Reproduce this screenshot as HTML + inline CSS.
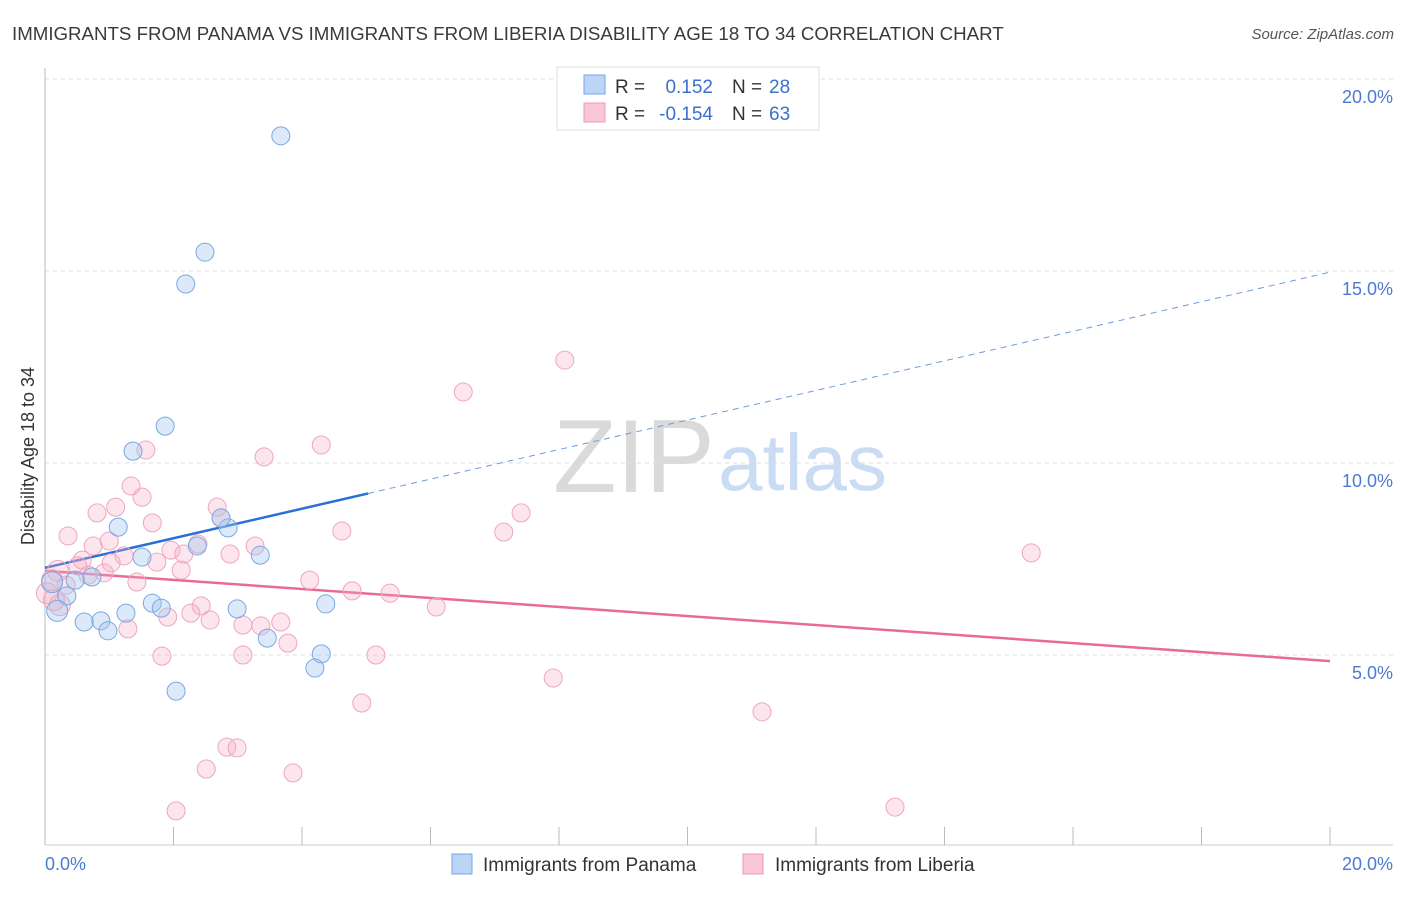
<!DOCTYPE html>
<html><head><meta charset="utf-8"><style>
body{margin:0;background:#fff;font-family:"Liberation Sans",sans-serif;}
svg text{font-family:"Liberation Sans",sans-serif;}
</style></head><body>
<svg id="chart" width="1406" height="892" viewBox="0 0 1406 892" xmlns="http://www.w3.org/2000/svg">
<text x="12" y="40" font-size="18.7" fill="#3a3a3a">IMMIGRANTS FROM PANAMA VS IMMIGRANTS FROM LIBERIA DISABILITY AGE 18 TO 34 CORRELATION CHART</text>
<text x="1394" y="39" font-size="15" fill="#555" text-anchor="end" font-style="italic">Source: ZipAtlas.com</text>
<g>
<text x="553" y="492" font-size="104" fill="#dadada" font-family="Liberation Serif,serif">ZIP</text>
<text x="718" y="490" font-size="80" fill="#cadcf3">atlas</text>
</g>
<g id="grid"></g>
<g id="axes"></g>
<text transform="translate(34,456) rotate(-90)" text-anchor="middle" font-size="18" fill="#333">Disability Age 18 to 34</text>
<g id="lines"></g>
<g id="pts"></g>
<g>
<rect x="557" y="67" width="262" height="63" fill="#fff" stroke="#ddd"/>
<rect x="584" y="75" width="21" height="19" fill="#bcd4f5" stroke="#7aa6e6"/>
<rect x="584" y="103" width="21" height="19" fill="#f9c6d6" stroke="#ec9ab6"/>
<text x="615" y="93" font-size="19" fill="#333">R =</text>
<text x="713" y="93" font-size="19" fill="#3a70d0" text-anchor="end">0.152</text>
<text x="732" y="93" font-size="19" fill="#333">N =</text>
<text x="769" y="93" font-size="19" fill="#3a70d0">28</text>
<text x="615" y="120" font-size="19" fill="#333">R =</text>
<text x="713" y="120" font-size="19" fill="#3a70d0" text-anchor="end">-0.154</text>
<text x="732" y="120" font-size="19" fill="#333">N =</text>
<text x="769" y="120" font-size="19" fill="#3a70d0">63</text>
</g>
<g>
<g><rect x="452" y="854" width="20" height="20" fill="#bcd4f5" stroke="#7aa6e6"/><text x="483" y="871" font-size="19" fill="#333">Immigrants from Panama</text></g>
<g><rect x="743" y="854" width="20" height="20" fill="#f9c6d6" stroke="#ec9ab6"/><text x="775" y="871" font-size="19" fill="#333">Immigrants from Liberia</text></g>
</g>
</svg>
<script>
const yTicks=[5,10,15,20];
const yTickLabels=["5.0%","10.0%","15.0%","20.0%"];
const xTickLabels=["0.0%","20.0%"];
const panamaX=[3.67,2.49,2.19,1.87,1.37,1.14,2.85,2.37,2.74,1.51,3.35,0.73,0.34,0.19,0.61,0.87,0.98,1.26,1.67,1.81,2.99,3.46,4.37,4.30,4.20,2.04,0.11,0.47];
const panamaY=[18.52,15.49,14.66,10.96,10.31,8.33,8.31,7.84,8.57,7.55,7.60,7.03,6.54,6.15,5.86,5.89,5.63,6.09,6.35,6.22,6.20,5.44,6.33,5.03,4.66,4.06,6.90,6.95];
const liberiaX=[8.09,6.51,4.30,1.57,3.41,1.34,1.10,0.81,1.51,1.67,0.36,2.68,2.74,7.14,7.41,4.62,1.00,0.75,1.23,1.96,2.16,2.38,2.88,3.27,1.74,0.58,0.51,0.20,0.92,1.43,2.12,4.12,4.78,5.37,6.09,15.35,2.43,2.27,1.91,2.57,3.08,3.36,3.67,1.29,3.78,1.82,3.08,5.15,7.91,4.93,11.16,2.83,2.99,2.51,3.86,2.04,13.23,0.03,0.11,0.23,0.33,0.14,1.03,0.67];
const liberiaY=[12.68,11.85,10.47,10.34,10.16,9.40,8.85,8.70,9.11,8.44,8.10,8.85,8.57,8.20,8.70,8.23,7.97,7.84,7.58,7.73,7.63,7.89,7.63,7.84,7.42,7.47,7.32,7.19,7.14,6.90,7.21,6.95,6.67,6.61,6.25,7.66,6.28,6.09,5.99,5.91,5.78,5.76,5.86,5.68,5.31,4.97,5.00,5.00,4.40,3.75,3.52,2.60,2.58,2.03,1.93,0.94,1.04,6.61,6.95,6.30,6.82,6.43,7.40,7.08];
const panamaTrend=[7.27,14.97];
const panamaTrendSolidEnd=5.03;
const liberiaTrend=[7.19,4.84];
const NS="http://www.w3.org/2000/svg";
const X=v=>45+v*64.25, Y=v=>847-v*38.4;
function mk(tag,attrs,parent){const e=document.createElementNS(NS,tag);for(const k in attrs)e.setAttribute(k,attrs[k]);parent.appendChild(e);return e;}
const grid=document.getElementById('grid'),axes=document.getElementById('axes'),lines=document.getElementById('lines'),pts=document.getElementById('pts');
yTicks.forEach((t,i)=>{
 const l=mk('line',{x1:45,x2:1393,y1:Y(t),y2:Y(t),stroke:'#ddd','stroke-dasharray':'4,4'},grid);
 
 
 const tx=mk('text',{x:1393,y:Y(t)+24,'text-anchor':'end','font-size':18,fill:'#4a7bd0'},grid);
 tx.textContent=yTickLabels[i];
 
 
});
mk('line',{x1:45,x2:45,y1:68,y2:845,stroke:'#bbb'},axes);
mk('line',{x1:45,x2:1393,y1:845,y2:845,stroke:'#ccc'},axes);
for(let i=0;i<=10;i++){const t=mk('line',{x1:X(i*2),x2:X(i*2),y1:827,y2:845,stroke:'#bbb'},axes);
 
 }
const xl0=mk('text',{x:45,y:870,'font-size':18,fill:'#4a7bd0'},axes);xl0.textContent=xTickLabels[0];


const xl1=mk('text',{x:1393,y:870,'font-size':18,fill:'#4a7bd0','text-anchor':'end'},axes);xl1.textContent=xTickLabels[1];


function draw(xs,ys,fill,stroke,name){xs.forEach((x,i)=>{const big=x<0.25;const c=mk('circle',{cx:X(x),cy:Y(ys[i]),r:big?10.5:9,fill:fill,stroke:stroke,'stroke-width':1},pts);
 
 });}
draw(liberiaX,liberiaY,'rgba(245,170,196,0.30)','#efa6bf','point-liberia');
draw(panamaX,panamaY,'rgba(160,196,240,0.38)','#7aa8e4','point-panama');
const pv=x=>panamaTrend[0]+(panamaTrend[1]-panamaTrend[0])*x/20;
const l1=mk('line',{x1:X(0),y1:Y(pv(0)),x2:X(panamaTrendSolidEnd),y2:Y(pv(panamaTrendSolidEnd)),stroke:'#2a6fd6','stroke-width':2.5},lines);


const l2=mk('line',{x1:X(panamaTrendSolidEnd),y1:Y(pv(panamaTrendSolidEnd)),x2:X(20),y2:Y(pv(20)),stroke:'#6b9be0','stroke-width':1,'stroke-dasharray':'6,5'},lines);


const l3=mk('line',{x1:X(0),y1:Y(liberiaTrend[0]),x2:X(20),y2:Y(liberiaTrend[1]),stroke:'#e8699a','stroke-width':2.5},lines);


</script>
</body></html>
